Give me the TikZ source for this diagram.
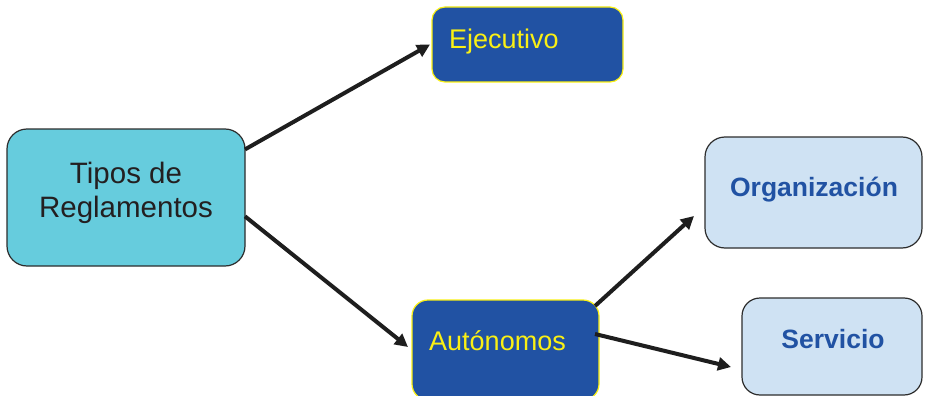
\documentclass[tikz,border=0pt]{standalone}
\usepackage{fontspec}
\setmainfont{Liberation Sans}
\usetikzlibrary{arrows.meta,calc}
\definecolor{cyanbox}{RGB}{102,204,221}
\definecolor{darkblue}{RGB}{33,82,163}
\definecolor{lightbox}{RGB}{207,226,243}
\definecolor{yell}{RGB}{250,240,20}
\definecolor{edgegray}{RGB}{45,45,45}
\begin{document}
\begin{tikzpicture}[x=1pt,y=-1pt,
  boxshape/.style={rectangle,inner sep=0pt,outer sep=0pt},
  darkbox/.style={boxshape,fill=darkblue,draw=yell,line width=1.2pt,rounded corners=13pt},
  palebox/.style={boxshape,fill=lightbox,draw=edgegray,line width=1.2pt,rounded corners=20pt},
  yeltext/.style={text=yell,font=\fontsize{27}{32}\selectfont,inner sep=0pt},
  bluetext/.style={text=darkblue,font=\fontsize{26.5}{32}\bfseries\selectfont,inner sep=0pt},
  conn/.style={line width=4pt,draw={rgb,255:red,30;green,30;blue,30},-{Triangle[length=13pt,width=13pt]}}
]
\clip (0,0) rectangle (927,396);
\fill[white] (0,0) rectangle (927,396);
% boxes
\node[boxshape,fill=cyanbox,draw=edgegray,line width=1.2pt,rounded corners=20pt,
  minimum width=238pt,minimum height=137pt] (tipos) at (126,197.5) {};
\node[darkbox,minimum width=191pt,minimum height=75pt] (ejec) at (527.5,44.5) {};
\node[darkbox,rounded corners=16pt,minimum width=187pt,minimum height=100pt] (auto) at (505.5,350) {};
\node[palebox,minimum width=217pt,minimum height=111pt] (org) at (813.5,192.5) {};
\node[palebox,rounded corners=18pt,minimum width=180pt,minimum height=97pt] (serv) at (832,346.5) {};
% texts
\node[align=center,inner sep=0pt,text={rgb,255:red,35;green,31;blue,32},
  font=\fontsize{29.5}{34}\selectfont] (tiposlbl) at (126,192.4) {Tipos de\\Reglamentos};
\node[yeltext,anchor=base west] (ejeclbl) at (449,49) {Ejecutivo};
\node[yeltext,anchor=base west] (autolbl) at (429,350) {Autónomos};
\node[bluetext,anchor=base] (orglbl) at (814,196) {Organización};
\node[bluetext,anchor=base] (servlbl) at (833,348) {Servicio};
% connectors
\draw[conn] (tipos.22) -- ($(ejec.west)+(-2,0)$);
\draw[conn] (tipos.-9) -- ($(auto.west)+(-4,-3)$);
\draw[conn] ($(auto.north east)+(-4,6)$) -- ($(org.west)+(-11,23.5)$);
\draw[conn] ($(auto.east)+(-4,-16)$) -- ($(serv.west)+(-11,20.5)$);
\end{tikzpicture}
\end{document}
